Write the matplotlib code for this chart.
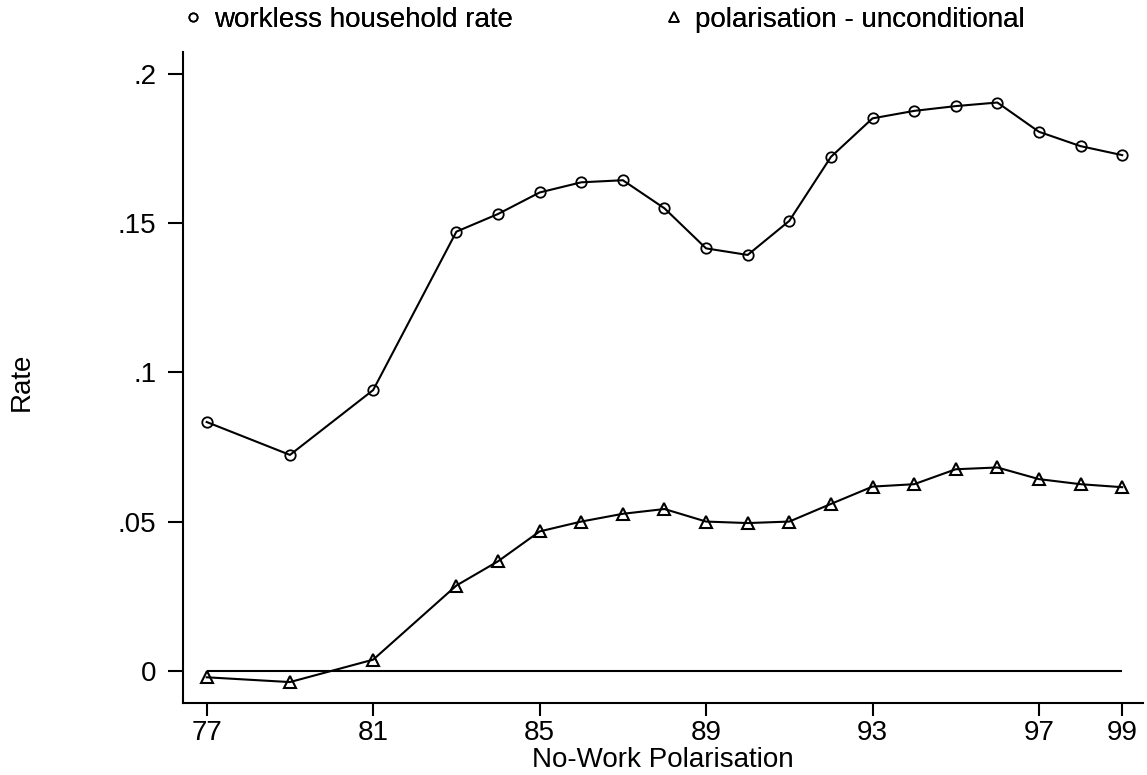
import matplotlib
matplotlib.use('Agg')
import matplotlib.pyplot as plt
from matplotlib.lines import Line2D

plt.rcParams['font.family'] = ['Liberation Sans', 'DejaVu Sans']

# ── Data: workless households and no-work polarisation, 1977-1999 ──
years = [77, 79, 81, 83, 84, 85, 86, 87, 88, 89, 90, 91, 92, 93, 94, 95, 96, 97, 98, 99]
workless = [0.0834, 0.0724, 0.0941, 0.1471, 0.1530, 0.1602, 0.1636, 0.1643, 0.1549, 0.1415,
            0.1393, 0.1507, 0.1721, 0.1850, 0.1875, 0.1891, 0.1903, 0.1805, 0.1757, 0.1727]
polar = [-0.0020, -0.0036, 0.0039, 0.0287, 0.0368, 0.0468, 0.0501, 0.0527, 0.0543, 0.0501,
         0.0496, 0.0501, 0.0560, 0.0618, 0.0626, 0.0676, 0.0682, 0.0643, 0.0626, 0.0616]

xticks = [77, 81, 85, 89, 93, 97, 99]
yticks = [0, 0.05, 0.1, 0.15, 0.2]
ytick_labels = ['0', '.05', '.1', '.15', '.2']

W, H = 1147, 775
FS = 20
LW = 1.5

fig = plt.figure(figsize=(W / 100, H / 100), dpi=100)
ax = fig.add_axes([183 / W, 1 - 703 / H, (1143 - 183) / W, (703 - 52) / H])

ax.plot(years, workless, color='black', lw=LW, marker='o', ms=7.5,
        mfc='none', mec='black', mew=1.3)
ax.plot(years, polar, color='black', lw=LW, marker='^', ms=9,
        mfc='none', mec='black', mew=1.5)
# zero reference line over the sample years
ax.hlines(0, years[0], years[-1], color='black', lw=LW)

ax.set_xlim(76.43, 99.5)
ax.set_ylim(-0.0106, 0.2072)
ax.set_xticks(xticks)
ax.set_xticklabels([str(x) for x in xticks])
ax.set_yticks(yticks)
ax.set_yticklabels(ytick_labels)

for s in ('top', 'right'):
    ax.spines[s].set_visible(False)
for s in ('left', 'bottom'):
    ax.spines[s].set_linewidth(1.5)

ax.tick_params(axis='y', direction='out', length=11, width=1.5, pad=8, labelsize=FS)
ax.tick_params(axis='x', direction='out', length=9.5, width=1.5, pad=3, labelsize=FS)

# axis titles
fig.text(663 / W, 1 - 760 / H, 'No-Work Polarisation', fontsize=FS, ha='center', va='center')
fig.text(22 / W, 1 - 382 / H, 'Rate', fontsize=FS, rotation=90, ha='center', va='center')

# legend entries across the top
h1 = Line2D([], [], ls='none', marker='o', ms=6, mfc='none', mec='black', mew=1.2)
h2 = Line2D([], [], ls='none', marker='^', ms=6.5, mfc='none', mec='black', mew=1.2)
for h, lab, x0 in [(h1, 'workless household rate', 186),
                   (h2, 'polarisation - unconditional', 667)]:
    leg = fig.legend([h], [lab], loc='center left', bbox_to_anchor=(x0 / W, 1 - 20 / H),
                     frameon=False, fontsize=FS, handlelength=0.5, handletextpad=0.5,
                     borderpad=0, borderaxespad=0)
    fig.add_artist(leg)

fig.savefig('out.png', dpi=100)
